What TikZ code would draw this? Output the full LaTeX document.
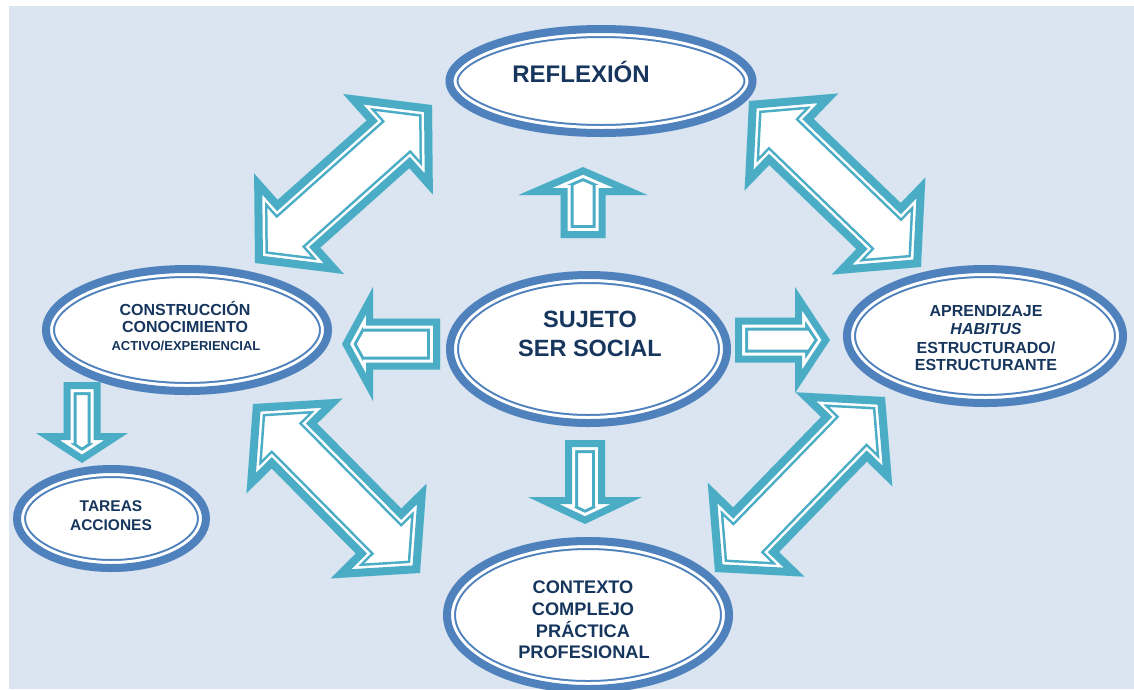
\documentclass[tikz,border=0pt]{standalone}
\usepackage{fontspec}
\setmainfont{Liberation Sans}
\usetikzlibrary{shapes.geometric}

\definecolor{paneblue}{HTML}{DBE5F1}
\definecolor{ringblue}{HTML}{4F81BD}
\definecolor{arrowteal}{HTML}{4BACC6}
\definecolor{inkblue}{HTML}{17365D}

% Outline made of bands that all lie inside the path:
% colour, inner line width, gap width, outer band width, path
\newcommand\banded[5]{%
  \begin{scope}
    \clip #5;
    \fill[white] #5;
    \draw[#1, line width=#4] #5;
    \draw[white, line width=#3] #5;
    \draw[#1, line width=#2] #5;
  \end{scope}}

% Block arrow from #1 to #2 (tip): shaft half width, head half width, head length
\newcommand\singleblock[5]{%
  \path (#1); \pgfgetlastxy{\xa}{\ya}
  \path (#2); \pgfgetlastxy{\xb}{\yb}
  \pgfmathsetmacro\ang{atan2((\yb)-(\ya),(\xb)-(\xa))}
  \pgfmathsetmacro\len{veclen((\xb)-(\xa),(\yb)-(\ya))}
  \pgfmathsetmacro\neck{\len-#5}
  \begin{scope}[shift={(#1)}, rotate=\ang]
    \banded{arrowteal}{14pt}{20pt}{26pt}
      {(0,-#3) -- (\neck,-#3) -- (\neck,-#4) -- (\len,0) -- (\neck,#4) -- (\neck,#3) -- (0,#3) -- cycle}
  \end{scope}}

% Two-headed block arrow between tips #1 and #2
\newcommand\doubleblock[5]{%
  \path (#1); \pgfgetlastxy{\xa}{\ya}
  \path (#2); \pgfgetlastxy{\xb}{\yb}
  \pgfmathsetmacro\ang{atan2((\yb)-(\ya),(\xb)-(\xa))}
  \pgfmathsetmacro\len{veclen((\xb)-(\xa),(\yb)-(\ya))}
  \pgfmathsetmacro\neck{\len-#5}
  \begin{scope}[shift={(#1)}, rotate=\ang]
    \banded{arrowteal}{16pt}{21pt}{26pt}
      {(0,0) -- (#5,#4) -- (#5,#3) -- (\neck,#3) -- (\neck,#4) -- (\len,0) -- (\neck,-#4) -- (\neck,-#3) -- (#5,-#3) -- (#5,-#4) -- cycle}
  \end{scope}}

\tikzset{
  ring/.style 2 args={ellipse, inner sep=0pt, minimum width=2*#1, minimum height=2*#2,
    fill=white, path picture={
      \draw[ringblue, line width=26pt] (path picture bounding box.center) ellipse [x radius=#1, y radius=#2];
      \draw[white, line width=22pt] (path picture bounding box.center) ellipse [x radius=#1, y radius=#2];
      \draw[ringblue, line width=16pt] (path picture bounding box.center) ellipse [x radius=#1, y radius=#2];
    }},
  txt/.style={text=inkblue, inner sep=0pt, anchor=base,
    font=\fontsize{#1}{#1}\selectfont\bfseries},
}

\begin{document}
\begin{tikzpicture}[x=1pt, y=-1pt]
  \useasboundingbox (0,0) rectangle (1134,689);
  \fill[paneblue] (9,6) rectangle (1134,689);

  % concept ellipses
  \node[ring={155.5pt}{56pt}] (reflexion) at (601,81) {};
  \node[ring={142.5pt}{78pt}] (sujeto) at (588.5,349) {};
  \node[ring={145pt}{65pt}] (construccion) at (187,330) {};
  \node[ring={98.5pt}{53.5pt}] (tareas) at (111.5,518.5) {};
  \node[ring={142pt}{71pt}] (aprendizaje) at (985,336) {};
  \node[ring={145pt}{78pt}] (contexto) at (588,615) {};

  % labels
  \node[txt=24] (reflexion-1) at (581,82) {REFLEXIÓN};

  \node[txt=23.5] (sujeto-1) at (590,327) {SUJETO};
  \node[txt=23.5] (sujeto-2) at (590,356) {SER SOCIAL};

  \node[txt=16] (construccion-1) at (185,315) {CONSTRUCCIÓN};
  \node[txt=16] (construccion-2) at (185,332.7) {CONOCIMIENTO};
  \node[txt=13] (construccion-3) at (186,350.7) {ACTIVO/EXPERIENCIAL};

  \node[txt=15.5] (tareas-1) at (111,511) {TAREAS};
  \node[txt=15.5] (tareas-2) at (111,530) {ACCIONES};

  \node[txt=16] (aprendizaje-1) at (986,316) {APRENDIZAJE};
  \node[txt=16] (aprendizaje-2) at (986,334) {\itshape HABITUS};
  \node[txt=16] (aprendizaje-3) at (986,353.3) {ESTRUCTURADO/};
  \node[txt=16] (aprendizaje-4) at (986,370.7) {ESTRUCTURANTE};

  \node[txt=18.2] (contexto-1) at (583,593.3) {CONTEXTO};
  \node[txt=18.2] (contexto-2) at (583,615) {COMPLEJO};
  \node[txt=18.2] (contexto-3) at (583,637.3) {PRÁCTICA};
  \node[txt=18.2] (contexto-4) at (584,658.3) {PROFESIONAL};

  % arrow end points
  \coordinate (tl-a) at (255,263);  \coordinate (tl-b) at (432,105);
  \coordinate (tr-a) at (749,101);  \coordinate (tr-b) at (921,267);
  \coordinate (bl-a) at (253,404);  \coordinate (bl-b) at (420,573);
  \coordinate (br-a) at (715,572);  \coordinate (br-b) at (885,397);
  \coordinate (up-a) at (583,238);  \coordinate (up-b) at (583,167);
  \coordinate (dn-a) at (585,440);  \coordinate (dn-b) at (585,524);
  \coordinate (lt-a) at (440,344);  \coordinate (lt-b) at (342,344);
  \coordinate (rt-a) at (735,340);  \coordinate (rt-b) at (830,340);
  \coordinate (sd-a) at (82,382);   \coordinate (sd-b) at (82,463);

  % two-headed arrows
  \doubleblock{tl-a}{tl-b}{32}{67.5}{59}
  \doubleblock{tr-a}{tr-b}{32}{67.5}{59}
  \doubleblock{bl-a}{bl-b}{32}{67.5}{59}
  \doubleblock{br-a}{br-b}{32}{67.5}{59}

  % one-headed arrows out of the centre
  \singleblock{up-a}{up-b}{22.5}{64.5}{28}
  \singleblock{dn-a}{dn-b}{20}{57}{27}
  \singleblock{lt-a}{lt-b}{25.5}{57}{31}
  \singleblock{rt-a}{rt-b}{22.5}{53}{35}
  \singleblock{sd-a}{sd-b}{18.5}{46}{30}
\end{tikzpicture}
\end{document}
